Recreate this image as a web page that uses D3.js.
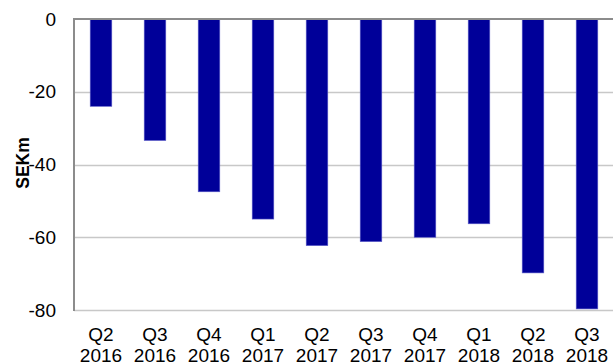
<!DOCTYPE html>
<html><head><meta charset="utf-8">
<script src="https://cdn.jsdelivr.net/npm/d3@7"></script>
<style>body{margin:0;background:#fff}svg{display:block}</style>
</head><body>
<script>
const quarters = ["Q2","Q3","Q4","Q1","Q2","Q3","Q4","Q1","Q2","Q3"];
const years = ["2016","2016","2016","2017","2017","2017","2017","2018","2018","2018"];
const values = [-24, -33.4, -47.5, -55, -62.3, -61.2, -60, -56.3, -69.8, -79.7];
const yTicks = [0, -20, -40, -60, -80];
const yLabel = "SEKm";

const W = 613, H = 362;
const mLeft = 74, mRight = 614, mTop = 19, mBottom = 310;
const FONT = "Liberation Sans, Arial, sans-serif";
const svg = d3.select("body").append("svg").attr("width", W).attr("height", H);
const cats = quarters.map((q, i) => i);
const x = d3.scaleBand().domain(cats).range([mLeft, mRight]).paddingInner(0.6).paddingOuter(0.3);
const y = d3.scaleLinear().domain([0, -80]).range([mTop, mBottom]);

// gridlines
svg.append("g").selectAll("line").data(yTicks.filter(t => t !== 0)).join("line")
  .attr("x1", mLeft).attr("x2", W).attr("y1", d => Math.round(y(d)) + 0.5).attr("y2", d => Math.round(y(d)) + 0.5)
  .attr("stroke", "#c8c8c8").attr("stroke-width", 1.3);

// bars
svg.append("g").selectAll("rect").data(values).join("rect")
  .attr("x", (d, i) => x(i)).attr("width", x.bandwidth())
  .attr("y", y(0)).attr("height", d => y(d) - y(0))
  .attr("fill", "#000099").attr("stroke", "#5a5ac8").attr("stroke-width", 0.6);

// axis lines
svg.append("line").attr("x1", mLeft).attr("x2", W).attr("y1", mTop).attr("y2", mTop)
  .attr("stroke", "#8c8c8c").attr("stroke-width", 2);
svg.append("line").attr("x1", mLeft).attr("x2", mLeft).attr("y1", mTop - 1).attr("y2", mBottom + 1)
  .attr("stroke", "#8c8c8c").attr("stroke-width", 2);

// y tick labels
const yAxis = d3.axisLeft(y).tickValues(yTicks).tickSize(0).tickPadding(18).tickFormat(d => String(d));
const ga = svg.append("g").attr("transform", `translate(${mLeft},0)`).call(yAxis);
ga.select(".domain").remove();
ga.selectAll("text").attr("font-family", FONT).attr("font-size", 19).attr("fill", "#000");

// x labels
const gx = svg.append("g");
cats.forEach(i => {
  const cx = x(i) + x.bandwidth() / 2;
  const t = gx.append("text").attr("x", cx).attr("text-anchor", "middle")
    .attr("font-family", FONT).attr("font-size", 19).attr("fill", "#000");
  t.append("tspan").attr("x", cx).attr("y", 340.5).text(quarters[i]);
  t.append("tspan").attr("x", cx).attr("y", 361.5).text(years[i]);
});

// y label
svg.append("text").attr("transform", `translate(29,163) rotate(-90)`)
  .attr("text-anchor", "middle").attr("font-family", FONT)
  .attr("font-weight", "bold").attr("font-size", 17.5).text(yLabel);
</script>
</body></html>
